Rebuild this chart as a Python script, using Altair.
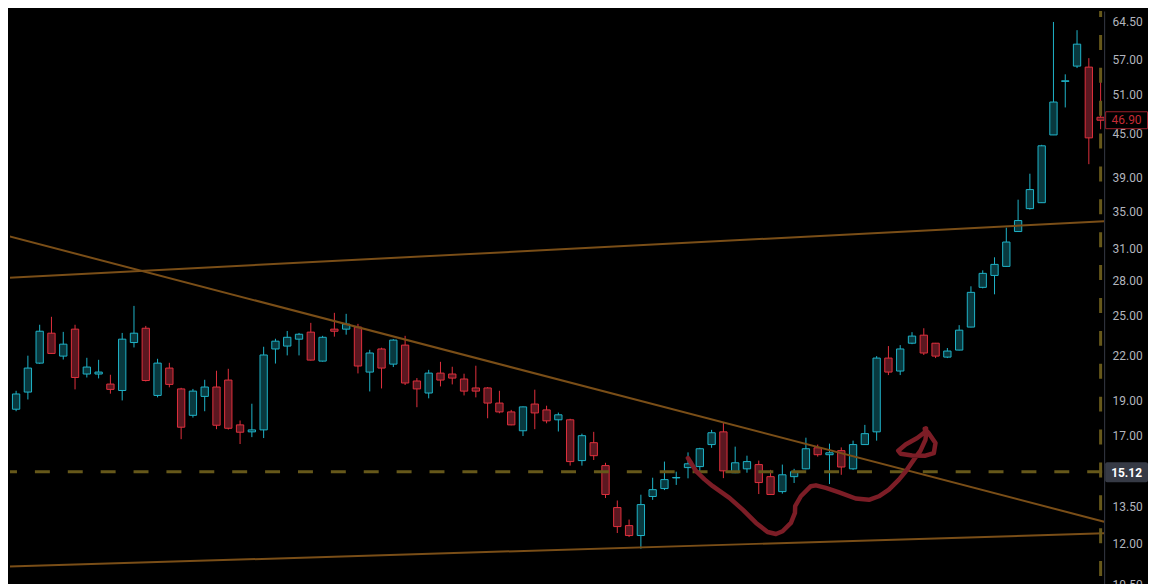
import altair as alt
import pandas as pd

# ---------------- data ----------------
opens = [18.69, 18.49, 19.54, 21.45, 23.62, 21.94, 23.93, 20.71, 20.71, 20.05,
         19.64, 22.92, 24.00, 19.33, 21.11, 19.74, 18.13, 19.27, 19.86, 20.31,
         17.58, 17.19, 17.30, 22.45, 22.66, 23.17, 23.70, 21.59, 23.93, 23.93,
         24.09, 20.84, 22.45, 21.38, 22.73, 20.25, 19.48, 20.77, 20.71, 20.38,
         19.80, 19.80, 18.86, 18.33, 17.25, 18.80, 18.45, 17.87, 17.87, 15.67,
         16.60, 15.42, 13.47, 12.71, 12.31, 13.96, 14.32, 14.82, 15.32, 15.37,
         16.50, 17.19, 15.07, 15.26, 15.47, 14.88, 14.18, 14.88, 15.26, 16.33,
         15.97, 16.18, 15.26, 16.50, 17.19, 21.80, 20.91, 22.87, 23.47, 22.87,
         21.87, 22.37, 24.09, 27.38, 28.45, 29.29, 32.77, 35.28, 35.96, 44.73,
         53.15, 55.83, 55.65, 47.35]
highs = [19.37, 19.62, 21.97, 24.27, 24.90, 23.72, 24.27, 21.82, 21.68, 20.66,
         23.64, 25.79, 24.18, 21.75, 21.47, 19.81, 19.74, 20.33, 20.93, 21.06,
         17.83, 18.82, 22.61, 23.20, 23.79, 23.64, 24.42, 23.42, 25.22, 25.14,
         24.34, 22.39, 22.54, 23.17, 23.42, 20.44, 20.99, 21.54, 21.20, 20.73,
         21.27, 19.86, 19.62, 18.45, 18.65, 19.69, 18.70, 18.29, 17.93, 17.09,
         17.19, 15.56, 13.78, 12.96, 14.04, 14.83, 15.62, 15.12, 16.09, 16.33,
         17.30, 17.70, 16.39, 15.92, 15.67, 15.21, 15.47, 15.26, 16.87, 16.50,
         16.55, 16.35, 16.71, 17.58, 21.94, 22.66, 22.73, 23.70, 24.00, 22.89,
         22.52, 24.24, 27.47, 28.92, 30.16, 33.18, 36.31, 39.48, 43.33, 64.36,
         54.37, 62.68, 57.28, 53.60]
lows = [18.19, 18.37, 19.08, 21.40, 22.10, 21.70, 19.71, 20.48, 20.42, 19.44,
        19.02, 22.56, 20.22, 19.21, 19.84, 16.79, 18.00, 18.37, 17.34, 17.32,
        16.53, 16.90, 16.85, 21.42, 21.99, 21.99, 21.63, 21.56, 23.36, 23.51,
        20.75, 19.58, 19.77, 21.18, 19.99, 18.61, 19.15, 19.90, 20.03, 19.33,
        19.21, 17.96, 18.25, 17.56, 16.96, 17.34, 17.67, 17.21, 15.42, 15.42,
        15.70, 13.89, 12.41, 12.25, 11.80, 13.81, 14.25, 14.49, 14.80, 15.16,
        16.33, 14.81, 15.05, 15.07, 14.07, 14.03, 14.09, 14.58, 15.24, 15.87,
        14.53, 14.97, 15.21, 16.48, 16.71, 20.64, 20.64, 22.80, 22.02, 21.80,
        21.80, 22.35, 24.07, 27.29, 26.77, 29.27, 32.75, 35.17, 35.94, 44.71,
        48.87, 55.48, 40.71, 45.56]
closes = [18.49, 19.42, 21.11, 23.77, 22.13, 22.80, 20.48, 21.18, 20.84, 19.71,
          23.17, 23.62, 20.28, 21.45, 20.03, 17.45, 19.60, 19.86, 17.56, 17.39,
          17.17, 17.30, 22.02, 23.02, 23.31, 23.54, 21.66, 23.31, 23.77, 24.32,
          21.25, 22.16, 21.11, 23.10, 20.12, 19.74, 20.77, 20.31, 20.44, 19.60,
          19.60, 18.86, 18.33, 17.58, 18.63, 18.27, 17.81, 18.16, 15.62, 16.98,
          15.92, 14.05, 12.67, 12.31, 13.60, 14.27, 14.74, 14.84, 15.51, 16.28,
          17.14, 15.16, 15.56, 15.62, 14.60, 14.05, 14.97, 15.12, 16.28, 15.97,
          16.07, 15.35, 16.50, 17.09, 21.80, 20.84, 22.45, 23.40, 22.16, 21.94,
          22.30, 23.85, 26.94, 28.64, 29.48, 31.68, 33.95, 37.51, 43.19, 49.73,
          53.25, 59.92, 44.31, 46.90]
bar_index = list(range(len(opens)))

# trend lines (bar index, price at both ends)
trend_names = ["falling", "falling", "upper", "upper", "lower", "lower"]
trend_i = [-0.19, 93.30, -0.19, 93.30, -0.19, 93.30]
trend_p = [32.46, 12.87, 28.21, 33.87, 11.13, 12.40]

# hand-drawn red annotation (bar index, price)
curve_i = [57.99, 58.70, 59.40, 60.10, 61.51, 62.64, 63.77, 64.75, 65.46, 66.02,
           66.73, 67.07, 67.09, 67.57, 68.42, 68.85, 69.69, 70.82, 72.22, 73.35,
           74.19, 75.04, 75.89, 76.46, 77.16, 77.72, 78.14, 78.19, 78.08, 78.42,
           78.99, 78.85, 78.14, 77.01, 76.03, 75.83, 76.46, 77.44, 78.08, 78.19]
curve_p = [15.80, 15.13, 14.75, 14.43, 13.90, 13.38, 12.82, 12.45, 12.37, 12.48,
           12.82, 13.24, 13.53, 13.97, 14.43, 14.47, 14.35, 14.15, 13.87, 13.81,
           13.97, 14.27, 14.74, 15.13, 15.72, 16.18, 16.76, 17.03, 17.36, 17.11,
           16.58, 16.05, 15.92, 15.93, 16.02, 16.18, 16.50, 16.85, 17.17, 17.39]

price_line = 15.12
last_price = 46.90
last_bar = 93
tick_values = [10.5, 12, 13.5, 17, 19, 22, 25, 28, 31, 35, 39, 45, 51, 57, 64.5]

# ---------------- styles ----------------
UP_LINE, UP_FILL = "#1fb3c8", "#08393f"
DN_LINE, DN_FILL = "#e0303d", "#5b1720"
TREND = "#7a4e17"
OLIVE = "#66581a"
CURVE = "#7c1d26"
W, H = 1098, 576

candles = pd.DataFrame({"i": bar_index, "open": opens, "high": highs,
                        "low": lows, "close": closes})
candles["dir"] = ["up" if c >= o else "down" for o, c in zip(opens, closes)]
trends = pd.DataFrame({"line": trend_names, "i": trend_i, "p": trend_p})
curve = pd.DataFrame({"k": list(range(len(curve_i))), "i": curve_i, "p": curve_p})

x_scale = alt.Scale(domain=[0.482, 93.30], nice=False, zero=False)
y_scale = alt.Scale(type="log", domain=[10.497, 66.67], nice=False)
y_axis = alt.Axis(orient="right", values=tick_values, format=".2f", grid=False,
                  ticks=False, tickSize=0, labelPadding=8, labelColor="#b2b5be",
                  labelFont="Roboto", labelFontSize=12, domainColor="#363a45",
                  domainWidth=1, labelFlush=False, labelOverlap=False,
                  labelBound=False, title=None)

def X(field):
    return alt.X(field, scale=x_scale, axis=None, title=None)

def Y(field):
    return alt.Y(field, scale=y_scale, axis=y_axis, title=None)

wicks = alt.Chart(candles).mark_rule(strokeWidth=1, clip=True).encode(
    x=X("i:Q"), y=Y("low:Q"), y2="high:Q",
    color=alt.Color("dir:N", scale=alt.Scale(domain=["up", "down"], range=[UP_LINE, DN_LINE]), legend=None),
)

bodies = alt.Chart(candles).transform_calculate(
    xl="datum.i - 0.31", xr="datum.i + 0.31"
).mark_rect(strokeWidth=1, clip=True).encode(
    x=X("xl:Q"), x2="xr:Q", y=Y("open:Q"), y2="close:Q",
    fill=alt.Fill("dir:N", scale=alt.Scale(domain=["up", "down"], range=[UP_FILL, DN_FILL]), legend=None),
    stroke=alt.Stroke("dir:N", scale=alt.Scale(domain=["up", "down"], range=[UP_LINE, DN_LINE]), legend=None),
)

trend_layer = alt.Chart(trends).mark_line(color=TREND, strokeWidth=2, clip=True).encode(
    x=X("i:Q"), y=Y("p:Q"), detail="line:N"
)

hline = alt.Chart(pd.DataFrame({"p": [price_line]})).mark_rule(
    color=OLIVE, strokeWidth=3, strokeDash=[15, 18], strokeDashOffset=31
).encode(y=Y("p:Q"))

vline = alt.Chart(pd.DataFrame({"i": [last_bar]})).mark_rule(
    color=OLIVE, strokeWidth=3, strokeDash=[15, 18], strokeDashOffset=9
).encode(x=X("i:Q"), y=alt.value(0), y2=alt.value(H))

curve_layer = alt.Chart(curve).mark_line(
    color=CURVE, strokeWidth=4.5, strokeCap="round", strokeJoin="round", clip=True
).encode(x=X("i:Q"), y=Y("p:Q"), order="k:Q")

pl_df = pd.DataFrame({"p": [price_line], "label": [f"{price_line:.2f}"]})
lp_df = pd.DataFrame({"p": [last_price], "label": [f"{last_price:.2f}"]})

pl_box = alt.Chart(pl_df).mark_rect(fill="#363a45", cornerRadius=2, yOffset=-9.5, y2Offset=10.5).encode(
    x=alt.value(W + 1), x2=alt.value(W + 44), y=Y("p:Q"), y2="p:Q")
pl_text = alt.Chart(pl_df).mark_text(align="center", baseline="middle", font="Roboto", fontSize=12,
                                     fontWeight="bold", color="#ffffff", dy=1).encode(
    x=alt.value(W + 22.5), y=Y("p:Q"), text="label:N")

lp_box = alt.Chart(lp_df).mark_rect(fill="#000000", stroke="#9b1f2a", strokeWidth=1,
                                    yOffset=-8.5, y2Offset=8.5).encode(
    x=alt.value(W + 1.5), x2=alt.value(W + 43.5), y=Y("p:Q"), y2="p:Q")
lp_text = alt.Chart(lp_df).mark_text(align="center", baseline="middle", font="Roboto", fontSize=12,
                                     color="#c42b36").encode(
    x=alt.value(W + 22.5), y=Y("p:Q"), text="label:N")

chart = alt.layer(
    wicks, bodies, trend_layer, hline, vline, curve_layer, pl_box, pl_text, lp_box, lp_text
).properties(
    width=W, height=H, padding=0, background="#000000"
).configure_view(strokeWidth=0)

chart.save("out.html", embed_options={"renderer": "svg", "actions": False})
